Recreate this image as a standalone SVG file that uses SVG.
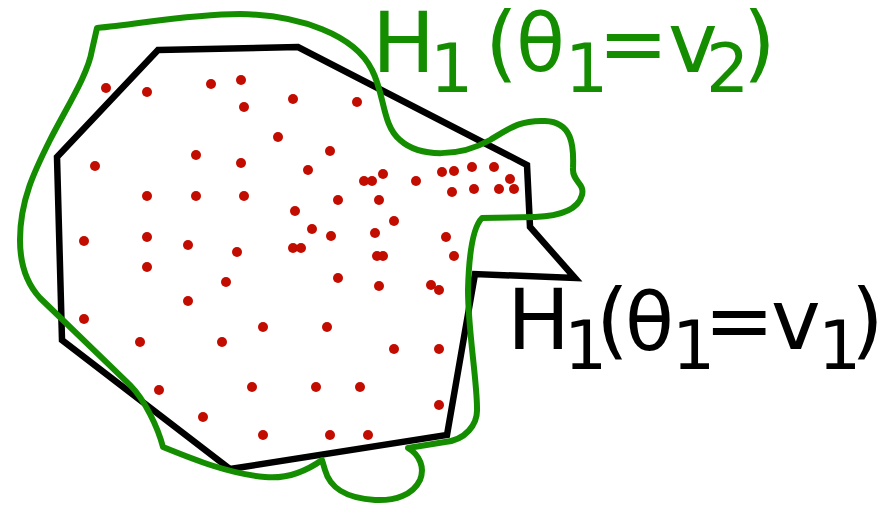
<svg xmlns="http://www.w3.org/2000/svg" width="889" height="507" viewBox="0 0 889 507">
<style>
.hull1{fill:none;stroke:#000;stroke-width:6.5;stroke-linejoin:miter}
.hull2{fill:none;stroke:#148e00;stroke-width:6;stroke-linejoin:round}
.pts circle{fill:#c20c00}
.lbl{font-family:"DejaVu Sans","Liberation Sans",sans-serif;font-size:84px}
.sub{font-size:68px}
.th{font-size:80px}
</style>
<rect width="889" height="507" fill="#fff"/>
<g id="hull-v1">
<polygon class="hull1" points="158,50 298,47 527,165 530,227 575,278 475,274 447,435 230,469 62,340 57,157"/>
</g>
<g id="points" class="pts">
<circle cx="106" cy="88" r="5"/><circle cx="147" cy="92" r="5"/><circle cx="211" cy="84" r="5"/><circle cx="241" cy="80" r="5"/>
<circle cx="244" cy="107" r="5"/><circle cx="293" cy="99" r="5"/><circle cx="357" cy="102" r="5"/><circle cx="278" cy="137" r="5"/>
<circle cx="330" cy="151" r="5"/><circle cx="196" cy="155" r="5"/><circle cx="241" cy="163" r="5"/><circle cx="95" cy="166" r="5"/>
<circle cx="308" cy="170" r="5"/><circle cx="364" cy="181" r="5"/><circle cx="372" cy="181" r="5"/><circle cx="383" cy="174" r="5"/>
<circle cx="416" cy="181" r="5"/><circle cx="442" cy="172" r="5"/><circle cx="454" cy="171" r="5"/><circle cx="472" cy="167" r="5"/>
<circle cx="494" cy="167" r="5"/><circle cx="510" cy="179" r="5"/><circle cx="514" cy="189" r="5"/><circle cx="499" cy="189" r="5"/>
<circle cx="474" cy="189" r="5"/><circle cx="452" cy="192" r="5"/><circle cx="147" cy="196" r="5"/><circle cx="196" cy="196" r="5"/>
<circle cx="244" cy="196" r="5"/><circle cx="338" cy="200" r="5"/><circle cx="379" cy="200" r="5"/><circle cx="295" cy="211" r="5"/>
<circle cx="394" cy="221" r="5"/><circle cx="312" cy="229" r="5"/><circle cx="331" cy="236" r="5"/><circle cx="375" cy="233" r="5"/>
<circle cx="446" cy="237" r="5"/><circle cx="84" cy="241" r="5"/><circle cx="147" cy="237" r="5"/><circle cx="188" cy="245" r="5"/>
<circle cx="237" cy="252" r="5"/><circle cx="293" cy="248" r="5"/><circle cx="301" cy="248" r="5"/><circle cx="377" cy="256" r="5"/>
<circle cx="383" cy="256" r="5"/><circle cx="454" cy="256" r="5"/><circle cx="147" cy="267" r="5"/><circle cx="338" cy="278" r="5"/>
<circle cx="226" cy="282" r="5"/><circle cx="379" cy="286" r="5"/><circle cx="431" cy="285" r="5"/><circle cx="439" cy="290" r="5"/>
<circle cx="188" cy="301" r="5"/><circle cx="84" cy="319" r="5"/><circle cx="263" cy="327" r="5"/><circle cx="327" cy="327" r="5"/>
<circle cx="140" cy="342" r="5"/><circle cx="222" cy="342" r="5"/><circle cx="394" cy="349" r="5"/><circle cx="439" cy="349" r="5"/>
<circle cx="159" cy="390" r="5"/><circle cx="252" cy="387" r="5"/><circle cx="316" cy="387" r="5"/><circle cx="360" cy="387" r="5"/>
<circle cx="439" cy="405" r="5"/><circle cx="203" cy="417" r="5"/><circle cx="263" cy="435" r="5"/><circle cx="330" cy="435" r="5"/>
<circle cx="368" cy="435" r="5"/>
</g>
<g id="hull-v2">
<path class="hull2" d="M 97,28 C 140,24 190,14 240,14 C 300,15 355,35 372,70 C 385,95 382,125 400,140 C 420,158 460,157 490,140 C 510,128 520,120 545,121 C 572,122 574,145 573,168 C 572,182 585,183 582,195 C 578,210 560,216 535,217 L 482,218 C 474,226 469,250 468,290 C 468,330 477,380 477,408 C 478,425 465,440 445,442 L 408,448 C 420,455 425,468 420,480 C 413,495 395,501 375,500 C 345,498 330,488 325,470 L 322,460 C 305,472 285,479 265,477 C 230,474 195,460 163,447 C 158,428 145,400 130,385 L 40,298 C 28,285 20,265 20,240 C 20,200 35,170 50,140 C 65,110 88,75 92,50 Z"/>
</g>
<g id="label-v2" class="lbl" fill="#148e00">
<text><tspan x="372" y="72">H</tspan><tspan class="sub" x="430" y="92">1</tspan><tspan x="485" y="72">(</tspan><tspan class="th" x="516" y="71">θ</tspan><tspan class="sub" x="565" y="92">1</tspan><tspan x="598" y="72">=</tspan><tspan x="668" y="72">v</tspan><tspan class="sub" x="706" y="92">2</tspan><tspan x="743" y="72">)</tspan></text>
</g>
<g id="label-v1" class="lbl" fill="#000">
<text><tspan x="507" y="349">H</tspan><tspan class="sub" x="564" y="369">1</tspan><tspan x="596" y="349">(</tspan><tspan class="th" x="625" y="350">θ</tspan><tspan class="sub" x="672" y="369">1</tspan><tspan x="704" y="349">=</tspan><tspan x="771" y="349">v</tspan><tspan class="sub" x="818" y="369">1</tspan><tspan x="851" y="349">)</tspan></text>
</g>
</svg>
